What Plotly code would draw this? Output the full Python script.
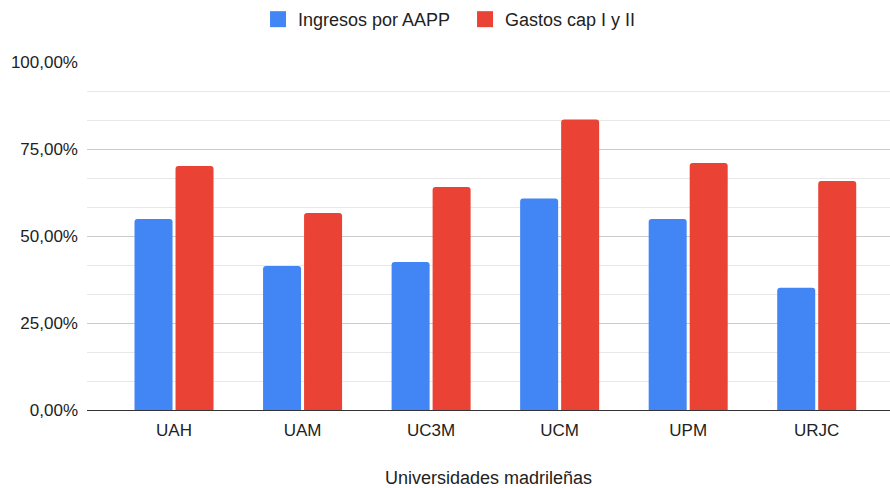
import plotly.graph_objects as go

universidades = ["UAH", "UAM", "UC3M", "UCM", "UPM", "URJC"]
ingresos_aapp = [54.9, 41.4, 42.5, 60.8, 54.9, 35.1]
gastos_cap = [70.1, 56.6, 64.1, 83.5, 71.0, 65.8]
series_names = ["Ingresos por AAPP", "Gastos cap I y II"]
y_tick_vals = [0, 25, 50, 75, 100]
y_tick_text = ["0,00%", "25,00%", "50,00%", "75,00%", "100,00%"]

BLUE = "#4285F4"
RED = "#EA4335"
FONT = "Arial, 'Liberation Sans', sans-serif"
TXT = "#222222"

fig = go.Figure()
for name, vals, col in zip(series_names, [ingresos_aapp, gastos_cap], [BLUE, RED]):
    fig.add_trace(go.Bar(name=name, x=universidades, y=vals, showlegend=False,
                         legendgroup=name, marker=dict(color=col, line=dict(width=0))))
for name, col in zip(series_names, [BLUE, RED]):
    fig.add_trace(go.Scatter(name=name, x=[None], y=[None], mode="markers",
                             legendgroup=name,
                             marker=dict(symbol="square", size=16, color=col)))

fig.update_layout(
    width=890, height=488,
    paper_bgcolor="white", plot_bgcolor="white",
    font=dict(family=FONT, size=17, color=TXT),
    barmode="group", bargap=0.362, bargroupgap=0.073, barcornerradius=3,
    margin=dict(l=87, r=0, t=62, b=78, autoexpand=False),
    legend=dict(orientation="h", x=0.213, xanchor="left", y=0.998, yanchor="top",
                yref="container", font=dict(size=18, color=TXT),
                entrywidth=162, entrywidthmode="pixels", traceorder="normal"),
    showlegend=True,
)

fig.update_xaxes(
    range=[-0.677, 5.57], showgrid=False, showline=False, ticks="", automargin=False,
    tickfont=dict(size=17, color=TXT), ticklabelstandoff=8,
    title=dict(text="Universidades madrileñas", font=dict(size=18, color=TXT), standoff=38),
)
fig.update_yaxes(
    range=[0, 100], tickvals=y_tick_vals, ticktext=y_tick_text, automargin=False,
    showgrid=True, gridcolor="#cccccc", gridwidth=1,
    minor=dict(dtick=25/3, tick0=0, showgrid=True, gridcolor="#e8e8e8", gridwidth=1, ticks=""),
    zeroline=True, zerolinecolor="#333333", zerolinewidth=1,
    showline=False, ticks="", ticklabelstandoff=8,
    tickfont=dict(size=17, color=TXT),
)

fig.write_html("out.html", config={"displayModeBar": False},
               post_script="document.body.style.margin='0';")
